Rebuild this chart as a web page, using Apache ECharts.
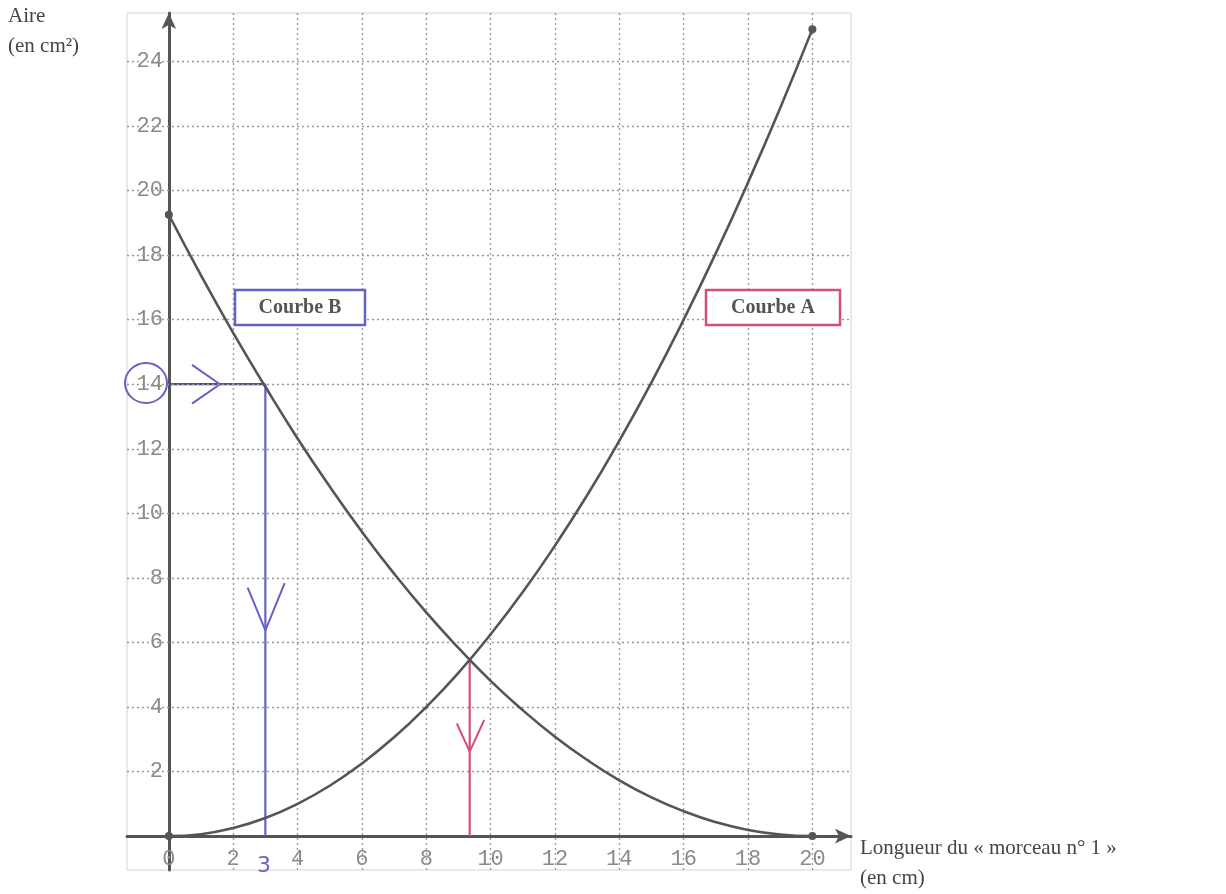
<!DOCTYPE html>
<html><head><meta charset="utf-8">
<script src="https://cdn.jsdelivr.net/npm/echarts@6/dist/echarts.min.js"></script>
<style>html,body{margin:0;padding:0;background:#fff;overflow:hidden}#c{width:1226px;height:894px}</style>
</head><body><div id="c"></div>
<script>
// Abscisses (longueur du morceau n°1, en cm)
var xValues = [0,1,2,3,4,5,6,7,8,9,10,11,12,13,14,15,16,17,18,19,20];
// Courbe A (aire, cm²)
var curveA = [0,0.06,0.25,0.56,1.0,1.56,2.25,3.06,4.0,5.06,6.25,7.56,9.0,10.56,12.25,14.06,16.0,18.06,20.25,22.56,25.0];
// Courbe B (aire, cm²)
var curveB = [19.25,17.37,15.59,13.92,12.32,10.83,9.43,8.13,6.93,5.83,4.81,3.90,3.08,2.36,1.73,1.20,0.77,0.43,0.19,0.05,0];
// Graduations
var xTicks = [0,2,4,6,8,10,12,14,16,18,20];
var yTicks = [2,4,6,8,10,12,14,16,18,20,22,24];
var xGrid = [2,4,6,8,10,12,14,16,18,20];
var yGrid = [2,4,6,8,10,12,14,16,18,20,22,24];
// Lectures manuscrites
var readB = [3, 14];          // x lu pour une aire de 14 sur la courbe B
var crossing = [9.35, 5.45];  // intersection des deux courbes

var chart = echarts.init(document.getElementById('c'));
function pts(ys){ return xValues.map(function(x,i){return [x, ys[i]];}); }
function endSym(v, p){ return (p.dataIndex===0 || p.dataIndex===xValues.length-1) ? 8 : 0; }

var blue = '#6363c4', red = '#d24f7c', ink = '#555';

var series = [
  { type:'line', data: pts(curveA), smooth:true, symbol:'circle', symbolSize:endSym, showSymbol:true, showAllSymbol:true,
    lineStyle:{color:ink,width:2.6}, itemStyle:{color:ink}, z:5,
    markLine:{silent:true, symbol:'none', label:{show:false}, animation:false,
      lineStyle:{color:'#9a9a9a', type:[2,3], width:1.4},
      data: xGrid.map(function(v){return {xAxis:v};}).concat(yGrid.map(function(v){return {yAxis:v};}))} },
  { type:'line', data: pts(curveB), smooth:true, symbol:'circle', symbolSize:endSym, showSymbol:true, showAllSymbol:true,
    lineStyle:{color:ink,width:2.6}, itemStyle:{color:ink}, z:5 },
  // lecture bleue : 14 -> courbe B -> 3
  { type:'line', data:[[0,readB[1]],[readB[0],readB[1]]], symbol:'none',
    lineStyle:{color:'#4b4b86',width:2.2}, z:4 },
  { type:'line', data:[[readB[0],readB[1]],[readB[0],0]], symbol:'none',
    lineStyle:{color:blue,width:2.2}, z:4 },
  { type:'line', data:[[readB[0]*0.24,readB[1]+0.6],[readB[0]*0.53,readB[1]],[readB[0]*0.24,readB[1]-0.6]], symbol:'none',
    lineStyle:{color:blue,width:2}, z:4 },
  { type:'line', data:[[readB[0]-0.55,readB[1]*0.55],[readB[0],readB[1]*0.455],[readB[0]+0.6,readB[1]*0.56]], symbol:'none',
    lineStyle:{color:blue,width:2}, z:4 },
  // lecture rouge : intersection
  { type:'line', data:[[crossing[0],crossing[1]],[crossing[0],0]], symbol:'none',
    lineStyle:{color:red,width:2.2}, z:4 },
  { type:'line', data:[[crossing[0]-0.4,crossing[1]*0.64],[crossing[0],crossing[1]*0.48],[crossing[0]+0.45,crossing[1]*0.66]], symbol:'none',
    lineStyle:{color:red,width:2}, z:4 }
];

chart.setOption({
  animation:false,
  backgroundColor:'#fff',
  grid:{left:127, right:375, top:13, bottom:24, show:true, borderColor:'#d4d4d4', borderWidth:1, outerBoundsMode:'none', containLabel:false},
  xAxis:{type:'value', min:-1.3, max:21.2,
    axisLine:{onZero:true, lineStyle:{color:ink,width:3}, symbol:['none','arrow'], symbolSize:[11,16]},
    axisTick:{show:false}, splitLine:{show:false},
    axisLabel:{customValues:xTicks, color:'#8a8a8a', fontFamily:'Liberation Mono', fontSize:22, margin:-22}},
  yAxis:{type:'value', min:-1.05, max:25.5,
    axisLine:{onZero:true, lineStyle:{color:ink,width:3}, symbol:['none','arrow'], symbolSize:[11,16]},
    axisTick:{show:false}, splitLine:{show:false},
    axisLabel:{customValues:yTicks, color:'#8a8a8a', fontFamily:'Liberation Mono', fontSize:22, margin:-36}},
  series: series,
  graphic:[
    {type:'text', left:8, top:6, style:{text:'Aire', font:'21px "Liberation Serif"', fill:'#444'}},
    {type:'text', left:8, top:36, style:{text:'(en cm²)', font:'21px "Liberation Serif"', fill:'#444'}},
    {type:'text', left:860, top:838, style:{text:'Longueur du « morceau n° 1 »', font:'21px "Liberation Serif"', fill:'#444'}},
    {type:'text', left:860, top:868, style:{text:'(en cm)', font:'21px "Liberation Serif"', fill:'#444'}},
    {type:'rect', shape:{x:235,y:290,width:130,height:35}, style:{fill:'#fff',stroke:blue,lineWidth:2.5}, z:10},
    {type:'text', x:300, y:308, style:{text:'Courbe B', font:'bold 20px "Liberation Serif"', fill:'#555', align:'center', verticalAlign:'middle'}, z:11},
    {type:'rect', shape:{x:706,y:290,width:134,height:35}, style:{fill:'#fff',stroke:red,lineWidth:2.5}, z:10},
    {type:'text', x:773, y:308, style:{text:'Courbe A', font:'bold 20px "Liberation Serif"', fill:'#555', align:'center', verticalAlign:'middle'}, z:11},
    {type:'ellipse', shape:{cx:146,cy:383,rx:21,ry:20}, style:{fill:'none',stroke:blue,lineWidth:2}, z:10},
    {type:'text', x:264, y:866, style:{text:'3', font:'22px "DejaVu Sans"', fill:blue, align:'center', verticalAlign:'middle'}, z:11}
  ]
});
</script></body></html>
